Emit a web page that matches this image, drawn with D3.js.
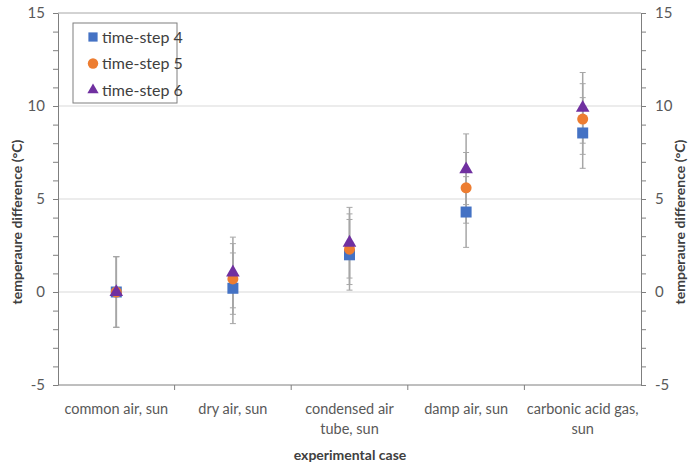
<!DOCTYPE html>
<html>
<head>
<meta charset="utf-8">
<script src="https://cdn.jsdelivr.net/npm/d3@7"></script>
<style>
  body { margin: 0; background: #fff; }
  svg text { font-family: Lato, "Open Sans", sans-serif; fill: #595959; }
</style>
</head>
<body>
<script>
// chart values
const cases = ["common air, sun", "dry air, sun", "condensed air tube, sun", "damp air, sun", "carbonic acid gas, sun"];
const caseLines = [["common air, sun"], ["dry air, sun"], ["condensed air", "tube, sun"], ["damp air, sun"], ["carbonic acid gas,", "sun"]];
const step4 = [0, 0.2, 2.0, 4.3, 8.55];
const step5 = [0, 0.7, 2.3, 5.6, 9.3];
const step6 = [0, 1.05, 2.65, 6.6, 9.9];
const err4 = [1.9, 1.9, 1.9, 1.9, 1.9];
const err5 = [1.9, 1.9, 1.9, 1.9, 1.9];
const err6 = [1.9, 1.9, 1.9, 1.9, 1.9];
const yTicks = [-5, 0, 5, 10, 15];
const seriesNames = ["time-step 4", "time-step 5", "time-step 6"];

const width = 688, height = 464;
const plot = {left: 58, right: 641, top: 13, bottom: 385};

const series = [
  {name: seriesNames[0], values: step4, err: err4, color: "#4472C4", shape: d3.symbolSquare},
  {name: seriesNames[1], values: step5, err: err5, color: "#ED7D31", shape: d3.symbolCircle},
  {name: seriesNames[2], values: step6, err: err6, color: "#7030A0", shape: d3.symbolTriangle}
];

const xScale = d3.scaleBand().domain(cases).range([plot.left, plot.right]).padding(0);
const yScale = d3.scaleLinear().domain([-5, 15]).range([plot.bottom, plot.top]);

const svg = d3.select("body").append("svg")
  .attr("width", width)
  .attr("height", height);

// gridlines
svg.append("g").selectAll("line")
  .data(yTicks.filter(t => t > -5))
  .enter().append("line")
  .attr("x1", plot.left).attr("x2", plot.right)
  .attr("y1", d => yScale(d)).attr("y2", d => yScale(d))
  .style("stroke", d => d === 15 ? "#a6a6a6" : "#d9d9d9")
  .style("stroke-width", 1);

const minor = d3.range(-5, 16, 1);
const fmt = d => String(d);

function styleAxis(g) {
  g.selectAll("path, line").style("stroke", "#7f7f7f");
  g.selectAll("text").style("font-size", "15px").style("fill", "#595959");
}

// left axis
svg.append("g")
  .attr("transform", "translate(" + plot.left + ",0)")
  .call(d3.axisLeft(yScale).tickValues(minor).tickSize(5).tickFormat("").tickSizeOuter(0))
  .call(styleAxis);
svg.append("g")
  .attr("transform", "translate(" + plot.left + ",0)")
  .call(d3.axisLeft(yScale).tickValues(yTicks).tickSize(5).tickPadding(8).tickFormat(fmt).tickSizeOuter(0))
  .call(styleAxis)
  .call(g => g.select(".domain").remove());

// right axis
svg.append("g")
  .attr("transform", "translate(" + plot.right + ",0)")
  .call(d3.axisRight(yScale).tickValues(minor).tickSize(5).tickFormat("").tickSizeOuter(0))
  .call(styleAxis);
svg.append("g")
  .attr("transform", "translate(" + plot.right + ",0)")
  .call(d3.axisRight(yScale).tickValues(yTicks).tickSize(5).tickPadding(9).tickFormat(fmt).tickSizeOuter(0))
  .call(styleAxis)
  .call(g => g.select(".domain").remove());

// bottom axis with ticks at category boundaries
const xAxisG = svg.append("g")
  .attr("transform", "translate(0," + plot.bottom + ")");
xAxisG.append("line")
  .attr("x1", plot.left).attr("x2", plot.right)
  .style("stroke", "#7f7f7f");
xAxisG.selectAll(".bt")
  .data(cases.slice(1))
  .enter().append("line")
  .attr("class", "bt")
  .attr("x1", d => xScale(d)).attr("x2", d => xScale(d))
  .attr("y1", 0).attr("y2", 5)
  .style("stroke", "#7f7f7f");

const xLabels = svg.append("g").selectAll("text")
  .data(cases)
  .enter().append("text")
  .attr("x", d => xScale(d) + xScale.bandwidth() / 2)
  .attr("y", 414)
  .style("text-anchor", "middle")
  .style("font-size", "14.5px");
xLabels.each(function (d, i) {
  const t = d3.select(this);
  caseLines[i].forEach((line, j) => {
    t.append("tspan")
      .attr("x", xScale(d) + xScale.bandwidth() / 2)
      .attr("dy", j === 0 ? 0 : 20)
      .text(line);
  });
});

// error bars
const cx = d => xScale(d) + xScale.bandwidth() / 2;
series.forEach(s => {
  const g = svg.append("g");
  cases.forEach((c, i) => {
    const v = s.values[i], e = s.err[i];
    g.append("line")
      .attr("x1", cx(c)).attr("x2", cx(c))
      .attr("y1", yScale(v - e)).attr("y2", yScale(v + e))
      .style("stroke", "#a6a6a6").style("stroke-width", 1.5);
    [v - e, v + e].forEach(end => {
      g.append("line")
        .attr("x1", cx(c) - 3).attr("x2", cx(c) + 3)
        .attr("y1", yScale(end)).attr("y2", yScale(end))
        .style("stroke", "#a6a6a6").style("stroke-width", 1);
    });
  });
});

// markers
const symSize = {"time-step 4": 121, "time-step 5": 95, "time-step 6": 80};
series.forEach(s => {
  svg.append("g").selectAll("path")
    .data(cases)
    .enter().append("path")
    .attr("d", d3.symbol().type(s.shape).size(symSize[s.name]))
    .attr("transform", (d, i) => "translate(" + cx(d) + "," + yScale(s.values[i]) + ")")
    .style("fill", s.color);
});

// legend
const legend = svg.append("g");
legend.append("rect")
  .attr("x", 73).attr("y", 23)
  .attr("width", 104).attr("height", 80)
  .style("fill", "#fff")
  .style("stroke", "#7f7f7f");
series.forEach((s, i) => {
  const y = 37 + i * 26.5;
  legend.append("path")
    .attr("d", d3.symbol().type(s.shape).size(s.shape === d3.symbolTriangle ? 55 : 85))
    .attr("transform", "translate(93," + y + ")")
    .style("fill", s.color);
  legend.append("text")
    .attr("x", 102).attr("y", y + 5.5)
    .style("font-size", "16px")
    .style("fill", "#404040")
    .text(s.name);
});

// axis titles
svg.append("text")
  .attr("transform", "translate(22,222) rotate(-90)")
  .style("text-anchor", "middle")
  .style("font-size", "14px")
  .style("font-weight", "bold")
  .style("fill", "#404040")
  .text("temperaure difference  (°C)");
svg.append("text")
  .attr("transform", "translate(685,222) rotate(-90)")
  .style("text-anchor", "middle")
  .style("font-size", "14px")
  .style("font-weight", "bold")
  .style("fill", "#404040")
  .text("temperaure difference  (°C)");
svg.append("text")
  .attr("x", 350).attr("y", 460)
  .style("text-anchor", "middle")
  .style("font-size", "14px")
  .style("font-weight", "bold")
  .style("fill", "#404040")
  .text("experimental case");
</script>
</body>
</html>
